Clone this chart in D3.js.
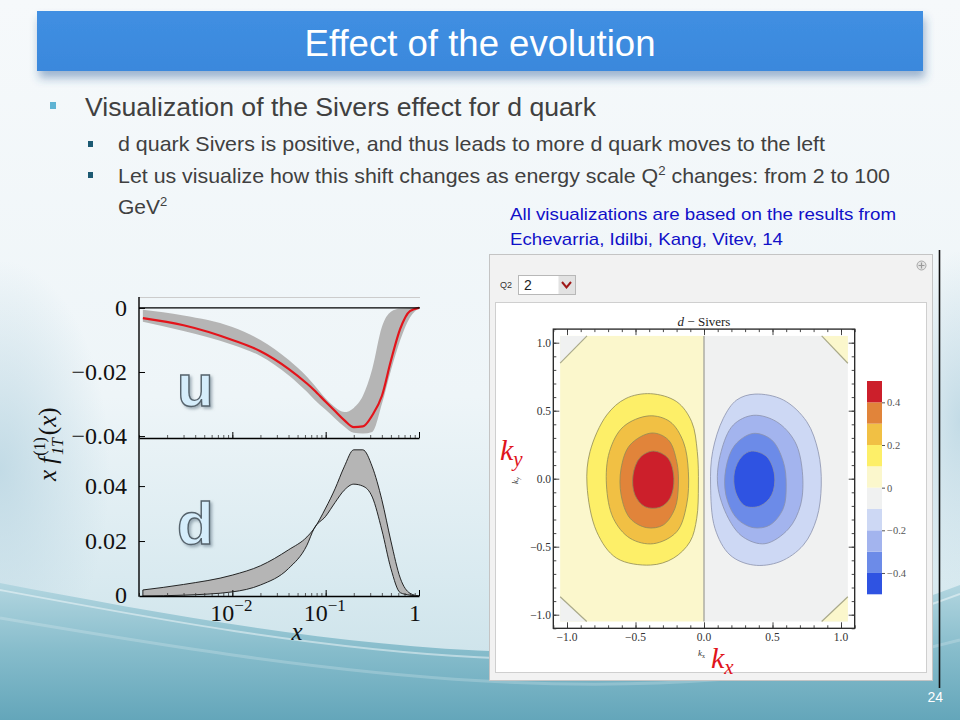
<!DOCTYPE html>
<html lang="en">
<head>
<meta charset="utf-8"/>
<title>Effect of the evolution</title>
<script src="https://cdnjs.cloudflare.com/ajax/libs/d3/7.8.5/d3.min.js"></script>
<style>
  body { margin: 0; background: #fff; }
  svg { display: block; }
  .sans { font-family: "Liberation Sans", Arial, sans-serif; }
  .serif { font-family: "Liberation Serif", "DejaVu Serif", serif; }
</style>
</head>
<body>
<div id="slide"></div>
<script>
// ---------- data ----------
// left chart: x f_1T^(1)(x) for u and d quarks
var xGrid    = [0.0011, 0.003, 0.01, 0.02, 0.04, 0.063, 0.075, 0.1, 0.126, 0.158, 0.2, 0.25, 0.316, 0.4, 0.5, 0.63, 0.8, 1.0];
var uCentral = [-0.0032,-0.0054,-0.0100,-0.0135,-0.0190,-0.0236,-0.0256,-0.0293,-0.0322,-0.0350,-0.0372,-0.0370,-0.0335,-0.0275,-0.0165,-0.0065,-0.0010,0];
var uUpper   = [-0.0006,-0.0024,-0.0060,-0.0100,-0.0162,-0.0215,-0.0240,-0.0283,-0.0310,-0.0325,-0.0312,-0.0275,-0.0190,-0.0060,-0.0012,-0.0002,0,0];
var uLower   = [-0.0043,-0.0072,-0.0115,-0.0150,-0.0210,-0.0262,-0.0285,-0.0318,-0.0345,-0.0370,-0.0390,-0.0392,-0.0387,-0.0300,-0.0195,-0.0100,-0.0030,0];
var dUpper   = [0.0022,0.0042,0.0076,0.0110,0.0168,0.0215,0.0245,0.0320,0.0390,0.0470,0.0532,0.0532,0.0470,0.0350,0.0200,0.0065,0.0010,0];
var dLower   = [0.0000,0.0003,0.0015,0.0040,0.0100,0.0185,0.0245,0.0290,0.0340,0.0385,0.0407,0.0400,0.0360,0.0240,0.0100,0.0012,0.0003,0];
var uTicks = [0, -0.02, -0.04];
var uTickLabels = ["0", "\u22120.02", "\u22120.04"];
var dTicks = [0, 0.02, 0.04];
var dTickLabels = ["0", "0.02", "0.04"];
var xMajor = [0.01, 0.1, 1];
var xMajorExp = ["\u22122", "\u22121", ""];

// right chart: d-quark Sivers contour levels and their contour outlines [kx, ky]
var posLevels = [0.1, 0.2, 0.3, 0.4];
var posContours = [
  [[-0.39,0.625],[-0.199,0.566],[-0.090,0.419],[-0.049,0.199],[-0.041,-0.046],[-0.053,-0.291],[-0.102,-0.463],[-0.224,-0.585],[-0.39,-0.635],[-0.637,-0.585],[-0.783,-0.390],[-0.854,-0.046],[-0.832,0.199],[-0.710,0.468],[-0.570,0.590]],
  [[-0.40,0.462],[-0.248,0.419],[-0.151,0.272],[-0.114,0.051],[-0.127,-0.193],[-0.199,-0.390],[-0.370,-0.478],[-0.540,-0.438],[-0.662,-0.291],[-0.712,-0.046],[-0.690,0.199],[-0.589,0.382]],
  [[-0.382,0.336],[-0.260,0.285],[-0.199,0.125],[-0.187,-0.046],[-0.212,-0.218],[-0.297,-0.340],[-0.418,-0.360],[-0.540,-0.291],[-0.605,-0.120],[-0.605,0.076],[-0.540,0.248]],
  [[-0.370,0.203],[-0.262,0.150],[-0.220,0.000],[-0.248,-0.144],[-0.321,-0.210],[-0.431,-0.206],[-0.504,-0.120],[-0.518,0.027],[-0.467,0.155]]
];
var negLevels = [-0.1, -0.2, -0.3, -0.4];
var negContours = [
  [[0.372,0.622],[0.579,0.579],[0.750,0.419],[0.834,0.199],[0.856,-0.046],[0.823,-0.291],[0.725,-0.488],[0.555,-0.610],[0.360,-0.635],[0.190,-0.561],[0.080,-0.365],[0.048,-0.046],[0.063,0.199],[0.141,0.444],[0.239,0.579]],
  [[0.360,0.466],[0.530,0.419],[0.664,0.272],[0.718,0.051],[0.705,-0.193],[0.616,-0.370],[0.445,-0.478],[0.287,-0.430],[0.178,-0.291],[0.100,-0.046],[0.125,0.199],[0.214,0.395]],
  [[0.360,0.333],[0.494,0.285],[0.579,0.125],[0.600,-0.046],[0.579,-0.218],[0.482,-0.340],[0.360,-0.360],[0.239,-0.291],[0.160,-0.120],[0.160,0.076],[0.226,0.248]],
  [[0.348,0.203],[0.458,0.162],[0.515,0.027],[0.494,-0.120],[0.409,-0.200],[0.299,-0.200],[0.230,-0.096],[0.222,0.051],[0.275,0.162]]
];
// corner cut-offs of the plotted square (value sign of each corner region)
var cornerValues = [-0.05, 0.05, -0.05, 0.05];
var cornerCuts = [
  [[-1.05,1.05],[-1.05,0.850],[-0.854,1.05]],
  [[1.05,1.05],[0.859,1.05],[1.05,0.849]],
  [[-1.05,-1.05],[-1.05,-0.868],[-0.856,-1.05]],
  [[1.05,-1.05],[0.859,-1.05],[1.05,-0.868]]
];
var barBreaks = [-0.5,-0.4,-0.3,-0.2,-0.1,0,0.1,0.2,0.3,0.4,0.5];
var barTicks = [-0.4,-0.2,0,0.2,0.4];
var barTickLabels = ["\u22120.4","\u22120.2","0","0.2","0.4"];
var kMajor = [-1, -0.5, 0, 0.5, 1];
var kMajorLabels = ["\u22121.0","\u22120.5","0.0","0.5","1.0"];

// ---------- slide ----------
var W = 960, H = 720;
var svg = d3.select("#slide").append("svg").attr("width", W).attr("height", H);
var defs = svg.append("defs");

var bg = defs.append("linearGradient").attr("id","bg").attr("x1",0).attr("y1",0).attr("x2",0).attr("y2",1);
bg.append("stop").attr("offset","0").attr("stop-color","#f6f9fb");
bg.append("stop").attr("offset","0.55").attr("stop-color","#eef5f8");
bg.append("stop").attr("offset","0.8").attr("stop-color","#d9eaf0");
bg.append("stop").attr("offset","1").attr("stop-color","#c6dfe7");
var edgeL = defs.append("radialGradient").attr("id","edgeL");
edgeL.append("stop").attr("offset","0").attr("stop-color","#bcd7e3").attr("stop-opacity",0.85);
edgeL.append("stop").attr("offset","1").attr("stop-color","#bcd7e3").attr("stop-opacity",0);
var wave = defs.append("linearGradient").attr("id","wave").attr("x1",0).attr("y1",0).attr("x2",0).attr("y2",1);
wave.append("stop").attr("offset","0").attr("stop-color","#b3d6e0");
wave.append("stop").attr("offset","0.5").attr("stop-color","#86bccb");
wave.append("stop").attr("offset","1").attr("stop-color","#64a6ba");
var bar = defs.append("linearGradient").attr("id","bar").attr("x1",0).attr("y1",0).attr("x2",0).attr("y2",1);
bar.append("stop").attr("offset","0").attr("stop-color","#408fe2");
bar.append("stop").attr("offset","1").attr("stop-color","#3a88dc");
var shadow = defs.append("filter").attr("id","shadow").attr("x","-5%").attr("y","-30%").attr("width","110%").attr("height","180%");
shadow.append("feDropShadow").attr("dx",2).attr("dy",7).attr("stdDeviation",5)
  .attr("flood-color","#2a5f9a").attr("flood-opacity",0.45);
var glow = defs.append("filter").attr("id","glow").attr("x","-20%").attr("y","-20%").attr("width","150%").attr("height","150%");
glow.append("feDropShadow").attr("dx",2).attr("dy",2).attr("stdDeviation",1.5)
  .attr("flood-color","#6b7f8c").attr("flood-opacity",0.6);

svg.append("rect").attr("width",W).attr("height",H).attr("fill","url(#bg)");
svg.append("ellipse").attr("cx",0).attr("cy",470).attr("rx",110).attr("ry",210).attr("fill","url(#edgeL)");
svg.append("ellipse").attr("cx",960).attr("cy",420).attr("rx",60).attr("ry",170).attr("fill","url(#edgeL)");
svg.append("path").attr("d","M0,583 C300,640 650,705 960,585 L960,720 L0,720 Z").attr("fill","url(#wave)");
svg.append("path").attr("d","M0,590 C300,646 650,712 960,594").attr("fill","none")
  .attr("stroke","#ffffff").attr("stroke-opacity",0.45).attr("stroke-width",2);
svg.append("path").attr("d","M0,618 C320,672 640,724 960,640").attr("fill","none")
  .attr("stroke","#ffffff").attr("stroke-opacity",0.2).attr("stroke-width",3);

// title bar
svg.append("rect").attr("x",37).attr("y",11).attr("width",886).attr("height",60)
  .attr("fill","url(#bar)").attr("filter","url(#shadow)");
svg.append("text").attr("class","sans").attr("x",480).attr("y",56).attr("text-anchor","middle")
  .attr("font-size",36).attr("fill","#ffffff").attr("textLength",351).attr("lengthAdjust","spacingAndGlyphs")
  .text("Effect of the evolution");

// bullets
svg.append("rect").attr("x",50).attr("y",102).attr("width",6).attr("height",7).attr("fill","#5fb3d3");
svg.append("text").attr("class","sans").attr("x",85).attr("y",116).attr("font-size",25).attr("fill","#404040")
  .attr("textLength",511).attr("lengthAdjust","spacingAndGlyphs")
  .text("Visualization of the Sivers effect for d quark");
svg.append("rect").attr("x",88).attr("y",141).attr("width",5).attr("height",6).attr("fill","#1d5a73");
svg.append("text").attr("class","sans").attr("x",118).attr("y",151).attr("font-size",21).attr("fill","#404040")
  .attr("textLength",707).attr("lengthAdjust","spacingAndGlyphs")
  .text("d quark Sivers is positive, and thus leads to more d quark moves to the left");
svg.append("rect").attr("x",88).attr("y",172).attr("width",5).attr("height",6).attr("fill","#1d5a73");
var l2 = svg.append("text").attr("class","sans").attr("x",118).attr("y",183).attr("font-size",21).attr("fill","#404040")
  .attr("textLength",772).attr("lengthAdjust","spacingAndGlyphs");
l2.append("tspan").text("Let us visualize how this shift changes as energy scale Q");
l2.append("tspan").attr("font-size",13).attr("dy",-8).text("2");
l2.append("tspan").attr("dy",8).text(" changes: from 2 to 100");
var l3 = svg.append("text").attr("class","sans").attr("x",118).attr("y",214).attr("font-size",21).attr("fill","#404040");
l3.append("tspan").text("GeV");
l3.append("tspan").attr("font-size",13).attr("dy",-8).text("2");
svg.append("text").attr("class","sans").attr("x",510).attr("y",220).attr("font-size",17).attr("fill","#1010c8")
  .attr("textLength",386).attr("lengthAdjust","spacingAndGlyphs")
  .text("All visualizations are based on the results from");
svg.append("text").attr("class","sans").attr("x",510).attr("y",245).attr("font-size",17).attr("fill","#1010c8")
  .attr("textLength",273).attr("lengthAdjust","spacingAndGlyphs")
  .text("Echevarria, Idilbi, Kang, Vitev, 14");
svg.append("text").attr("class","sans").attr("x",943).attr("y",702).attr("text-anchor","end")
  .attr("font-size",14).attr("fill","#ffffff").text("24");

// ---------- left chart ----------
var x = d3.scaleLog().domain([0.001, 1]).range([139, 419]);
var yU = d3.scaleLinear().domain([-0.0406, 0.0034]).range([438, 297]);
var yD = d3.scaleLinear().domain([0, 0.0575]).range([596, 438]);
var left = svg.append("g");

var uBand = d3.area().curve(d3.curveMonotoneX)
  .x(function(d, i){ return x(xGrid[i]); })
  .y0(function(d, i){ return yU(uLower[i]); })
  .y1(function(d, i){ return yU(uUpper[i]); });
left.append("path").datum(xGrid).attr("d", uBand).attr("fill","#b5b5b5");
var uLine = d3.line().curve(d3.curveMonotoneX)
  .x(function(d, i){ return x(xGrid[i]); })
  .y(function(d){ return yU(d); });
left.append("path").datum(uCentral).attr("d", uLine).attr("fill","none")
  .attr("stroke","#e3141b").attr("stroke-width",2.2);

var dBand = d3.area().curve(d3.curveMonotoneX)
  .x(function(d, i){ return x(xGrid[i]); })
  .y0(function(d, i){ return yD(dLower[i]); })
  .y1(function(d, i){ return yD(dUpper[i]); });
left.append("path").datum(xGrid).attr("d", dBand).attr("fill","#b5b5b5");
var dLine = d3.line().curve(d3.curveMonotoneX)
  .x(function(d, i){ return x(xGrid[i]); }).y(function(d){ return yD(d); });
left.append("path").datum(dLower).attr("d", dLine).attr("fill","none").attr("stroke","#111").attr("stroke-width",0.9);
left.append("path").datum(dUpper).attr("d", dLine).attr("fill","none").attr("stroke","#111").attr("stroke-width",0.9);
left.append("line").attr("x1",x(xGrid[0])).attr("x2",x(xGrid[0]))
  .attr("y1",yD(dLower[0])).attr("y2",yD(dUpper[0])).attr("stroke","#111").attr("stroke-width",0.9);

// frame lines
left.append("line").attr("x1",139).attr("x2",420).attr("y1",297.5).attr("y2",297.5).attr("stroke","#cccccc");
left.append("line").attr("x1",139).attr("x2",420).attr("y1",yU(0)).attr("y2",yU(0)).attr("stroke","#000").attr("stroke-width",1.3);

function xAxis(yPos) {
  var ax = d3.axisBottom(x).tickSizeInner(-3).tickSizeOuter(0).tickFormat("");
  var g = left.append("g").attr("transform","translate(0," + yPos + ")").call(ax);
  g.select(".domain").attr("stroke","#000").attr("stroke-width",1.6);
  g.selectAll(".tick line").attr("stroke","#333").attr("stroke-width",0.8);
  var big = d3.axisBottom(x).tickValues(xMajor).tickSizeInner(-6).tickSizeOuter(0).tickFormat("");
  var g2 = left.append("g").attr("transform","translate(0," + yPos + ")").call(big);
  g2.select(".domain").remove();
  g2.selectAll(".tick line").attr("stroke","#000").attr("stroke-width",1);
}
xAxis(438);
xAxis(596);

function yAxis(scale, vals, labels) {
  var ax = d3.axisLeft(scale).tickValues(vals).tickSizeInner(-6).tickSizeOuter(0).tickPadding(12)
    .tickFormat(function(d, i){ return labels[i]; });
  var g = left.append("g").attr("transform","translate(139,0)").call(ax);
  g.select(".domain").remove();
  g.selectAll(".tick line").attr("stroke","#000").attr("stroke-width",1);
  g.selectAll(".tick text").attr("font-size",24).attr("fill","#111")
    .attr("font-family",'"Liberation Serif", serif');
}
yAxis(yU, uTicks, uTickLabels);
yAxis(yD, dTicks.slice(1), dTickLabels.slice(1));
left.append("text").attr("class","serif").attr("x",127).attr("y",yD(0)+7).attr("text-anchor","end")
  .attr("font-size",24).attr("fill","#111").text(dTickLabels[0]);
left.append("line").attr("x1",139).attr("x2",139).attr("y1",297).attr("y2",596.8).attr("stroke","#000").attr("stroke-width",1.4);

xMajor.forEach(function(v, i){
  var t = left.append("text").attr("class","serif").attr("font-size",24).attr("fill","#111")
    .attr("y",621);
  if (xMajorExp[i]) {
    t.attr("x", x(v) - 22);
    t.append("tspan").text("10");
    t.append("tspan").attr("font-size",17).attr("dy",-10).text(xMajorExp[i]);
  } else {
    t.attr("x", x(v) + 2).attr("text-anchor","end").text("1");
  }
});
left.append("text").attr("class","serif").attr("x",297).attr("y",640).attr("text-anchor","middle")
  .attr("font-size",25).attr("font-style","italic").attr("fill","#111").text("x");

var ylab = left.append("text").attr("class","serif").attr("transform","translate(56,481) rotate(-90)")
  .attr("font-size",25).attr("fill","#111");
ylab.append("tspan").attr("font-style","italic").text("x f");
ylab.append("tspan").attr("font-size",16).attr("dx",1).attr("dy",-11).text("(1)");
ylab.append("tspan").attr("font-size",16).attr("font-style","italic").attr("dx",-18).attr("dy",18).text("1T");
ylab.append("tspan").attr("dy",-7).attr("dx",3).text("(");
ylab.append("tspan").attr("font-style","italic").text("x");
ylab.append("tspan").text(")");

left.append("text").attr("class","sans").attr("x",177).attr("y",406).attr("font-size",60).attr("font-weight","bold")
  .attr("fill","#d5edfb").attr("stroke","#56636c").attr("stroke-width",1.4).attr("filter","url(#glow)").text("u");
left.append("text").attr("class","sans").attr("x",177).attr("y",544).attr("font-size",60).attr("font-weight","bold")
  .attr("fill","#d5edfb").attr("stroke","#56636c").attr("stroke-width",1.4).attr("filter","url(#glow)").text("d");

// ---------- right panel (contour plot) ----------
var right = svg.append("g");
right.append("rect").attr("x",489.5).attr("y",254.5).attr("width",443).attr("height",426)
  .attr("fill","#f2f2f2").attr("stroke","#c4c4c4");
right.append("rect").attr("x",495.5).attr("y",302.5).attr("width",431).attr("height",370)
  .attr("fill","#ffffff").attr("stroke","#cfcfcf");
right.append("line").attr("x1",939.5).attr("x2",939.5).attr("y1",250).attr("y2",688).attr("stroke","#111").attr("stroke-width",1.6);
right.append("circle").attr("cx",921.5).attr("cy",265.5).attr("r",4.5).attr("fill","#e4e4e4").attr("stroke","#a8a8a8");
right.append("path").attr("d","M918.5,265.5h6M921.5,262.5v6").attr("stroke","#9a9a9a").attr("stroke-width",1.2);

// Q2 control
right.append("text").attr("class","sans").attr("x",500).attr("y",288).attr("font-size",9).attr("fill","#333").text("Q2");
right.append("rect").attr("x",518.5).attr("y",275.5).attr("width",57).attr("height",19).attr("fill","#fff").attr("stroke","#b8b8b8");
right.append("rect").attr("x",558.5).attr("y",276).attr("width",16.5).attr("height",18).attr("fill","#e2e2e2");
right.append("text").attr("class","sans").attr("x",524).attr("y",290).attr("font-size",14).attr("fill","#222").text("2");
right.append("path").attr("d","M562,282 L566.5,287.5 L571,282").attr("fill","none").attr("stroke","#a01818").attr("stroke-width",2);

var kx = d3.scaleLinear().domain([-1.1, 1.1]).range([553.3, 854.7]);
var ky = d3.scaleLinear().domain([-1.1, 1.1]).range([628.3, 329.1]);
var col = d3.scaleThreshold().domain([-0.4,-0.3,-0.2,-0.1,0,0.1,0.2,0.3,0.4])
  .range(["#2f53e2","#6c8be8","#a3b4ee","#cdd8f4","#f0f1f1","#fbf7cc","#fdef68","#f1c044","#e1843a","#cc1f2b"]);

var plot = right.append("g");
plot.append("rect").attr("x",kx(-1.05)).attr("y",ky(1.05)).attr("width",kx(0)-kx(-1.05)).attr("height",ky(-1.05)-ky(1.05))
  .attr("fill", col(0.05));
plot.append("rect").attr("x",kx(0)).attr("y",ky(1.05)).attr("width",kx(1.05)-kx(0)).attr("height",ky(-1.05)-ky(1.05))
  .attr("fill", col(-0.05));
cornerCuts.forEach(function(pts, i){
  plot.append("path").attr("d","M" + pts.map(function(p){ return kx(p[0]) + "," + ky(p[1]); }).join("L") + "Z")
    .attr("fill", col(cornerValues[i]));
  plot.append("line").attr("x1",kx(pts[1][0])).attr("y1",ky(pts[1][1])).attr("x2",kx(pts[2][0])).attr("y2",ky(pts[2][1]))
    .attr("stroke","#a9a98a").attr("stroke-width",1.2);
});
plot.append("line").attr("x1",kx(0)).attr("x2",kx(0)).attr("y1",ky(1.05)).attr("y2",ky(-1.05))
  .attr("stroke","#a8a8a0").attr("stroke-width",1.4);

var contour = d3.line().curve(d3.curveCatmullRomClosed.alpha(0.5))
  .x(function(p){ return kx(p[0]); }).y(function(p){ return ky(p[1]); });
posContours.forEach(function(c, i){
  plot.append("path").attr("d", contour(c)).attr("fill", col(posLevels[i]))
    .attr("stroke","#8f8a55").attr("stroke-width",0.8);
});
negContours.forEach(function(c, i){
  plot.append("path").attr("d", contour(c)).attr("fill", col(negLevels[i] - 0.05))
    .attr("stroke","#8a92ad").attr("stroke-width",0.8);
});

// frame and ticks on all four sides
var frame = right.append("g");
frame.append("rect").attr("x",kx(-1.1)).attr("y",ky(1.1)).attr("width",kx(1.1)-kx(-1.1)).attr("height",ky(-1.1)-ky(1.1))
  .attr("fill","none").attr("stroke","#222").attr("stroke-width",1.3);
var minor = kx.ticks(22);
function sideTicks(axisFn, scale, tf, len, vals) {
  var g = frame.append("g").attr("transform", tf)
    .call(axisFn(scale).tickValues(vals).tickSizeInner(-len).tickSizeOuter(0).tickFormat(""));
  g.select(".domain").remove();
  g.selectAll(".tick line").attr("stroke","#333").attr("stroke-width",0.9);
}
sideTicks(d3.axisBottom, kx, "translate(0," + ky(-1.1) + ")", 3, minor);
sideTicks(d3.axisBottom, kx, "translate(0," + ky(-1.1) + ")", 6, kMajor);
sideTicks(d3.axisTop, kx, "translate(0," + ky(1.1) + ")", 3, minor);
sideTicks(d3.axisTop, kx, "translate(0," + ky(1.1) + ")", 6, kMajor);
sideTicks(d3.axisLeft, ky, "translate(" + kx(-1.1) + ",0)", 3, minor);
sideTicks(d3.axisLeft, ky, "translate(" + kx(-1.1) + ",0)", 6, kMajor);
sideTicks(d3.axisRight, ky, "translate(" + kx(1.1) + ",0)", 3, minor);
sideTicks(d3.axisRight, ky, "translate(" + kx(1.1) + ",0)", 6, kMajor);
kMajor.forEach(function(v, i){
  frame.append("text").attr("class","serif").attr("x",kx(v)).attr("y",641).attr("text-anchor","middle")
    .attr("font-size",11.5).attr("fill","#333").text(kMajorLabels[i]);
  frame.append("text").attr("class","serif").attr("x",551).attr("y",ky(v)+4).attr("text-anchor","end")
    .attr("font-size",11.5).attr("fill","#333").text(kMajorLabels[i]);
});
var ttl = frame.append("text").attr("class","serif").attr("x",704).attr("y",326).attr("text-anchor","middle")
  .attr("font-size",13).attr("fill","#222");
ttl.append("tspan").attr("font-style","italic").text("d");
ttl.append("tspan").text(" \u2212 Sivers");
var kxs = frame.append("text").attr("class","serif").attr("x",698).attr("y",656).attr("font-size",9).attr("fill","#333");
kxs.append("tspan").attr("font-style","italic").text("k");
kxs.append("tspan").attr("font-size",6).attr("dy",2).text("x");
var kys = frame.append("text").attr("class","serif").attr("transform","translate(518,484) rotate(-90)").attr("font-size",9).attr("fill","#333");
kys.append("tspan").attr("font-style","italic").text("k");
kys.append("tspan").attr("font-size",6).attr("dy",2).text("y");

// colour bar
var cb = d3.scaleLinear().domain([-0.5, 0.5]).range([594.3, 381]);
var cbg = right.append("g");
cbg.selectAll("rect").data(barBreaks.slice(0, -1)).enter().append("rect")
  .attr("x",867).attr("width",15)
  .attr("y", function(d, i){ return cb(barBreaks[i + 1]); })
  .attr("height", function(d, i){ return cb(barBreaks[i]) - cb(barBreaks[i + 1]); })
  .attr("fill", function(d){ return col(d + 0.05); });
var cbax = cbg.append("g").attr("transform","translate(882,0)")
  .call(d3.axisRight(cb).tickValues(barTicks).tickSizeInner(3).tickSizeOuter(0).tickPadding(2)
    .tickFormat(function(d, i){ return barTickLabels[i]; }));
cbax.select(".domain").remove();
cbax.selectAll(".tick line").attr("stroke","#555");
cbax.selectAll(".tick text").attr("font-family",'"Liberation Serif", serif').attr("font-size",10.5).attr("fill","#555");

// big red axis names
var bky = right.append("text").attr("class","serif").attr("x",500).attr("y",460).attr("fill","#e0141c").attr("font-size",30);
bky.append("tspan").attr("font-style","italic").text("k");
bky.append("tspan").attr("font-style","italic").attr("font-size",21).attr("dy",6).text("y");
var bkx = right.append("text").attr("class","serif").attr("x",711).attr("y",668).attr("fill","#e0141c").attr("font-size",30);
bkx.append("tspan").attr("font-style","italic").text("k");
bkx.append("tspan").attr("font-style","italic").attr("font-size",21).attr("dy",6).text("x");
</script>
</body>
</html>
